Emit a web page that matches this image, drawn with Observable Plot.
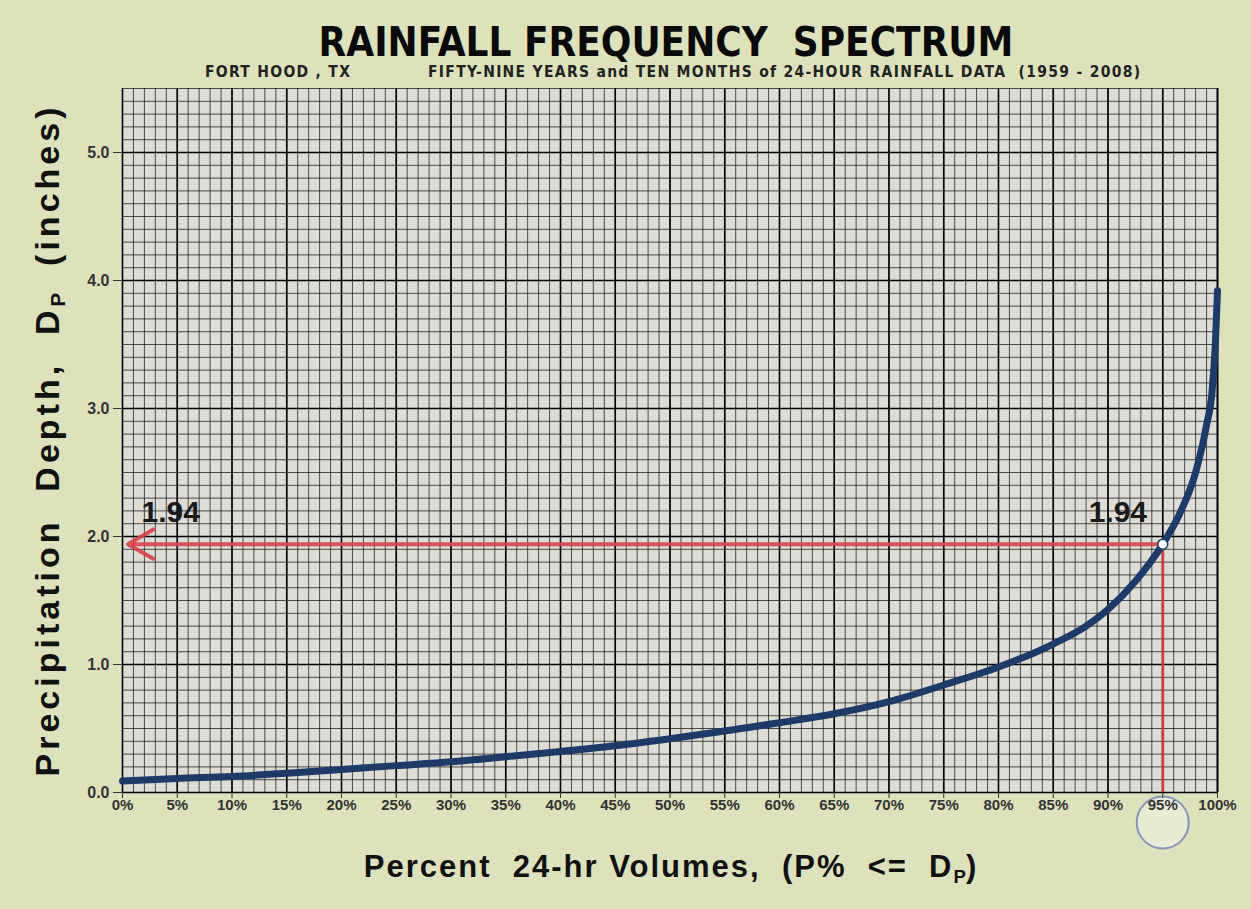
<!DOCTYPE html>
<html><head><meta charset="utf-8">
<script src="https://cdn.jsdelivr.net/npm/d3@7"></script>
<script src="https://cdn.jsdelivr.net/npm/@observablehq/plot@0.6"></script>
<style>
html,body{margin:0;padding:0;}
body{width:1251px;height:909px;background:#dde2bd;position:relative;overflow:hidden;font-family:"Liberation Sans",Arial,sans-serif;}
.abs{position:absolute;white-space:pre;}
#title{left:666px;top:22px;transform:translateX(-50%);font-family:"DejaVu Sans Condensed","Liberation Sans",sans-serif;font-weight:bold;font-size:40px;letter-spacing:0px;color:#0a0a0a;line-height:1;}
.sub{top:65px;font-family:"DejaVu Sans Condensed","Liberation Sans",sans-serif;font-weight:bold;font-size:15.5px;letter-spacing:1.3px;color:#222;line-height:1;}
#ylab{left:47px;top:440px;transform:translate(-50%,-50%) rotate(-90deg);font-weight:bold;font-size:34px;letter-spacing:4px;color:#111;line-height:1;}
#xlab{left:671px;top:866px;transform:translate(-50%,-50%);font-weight:bold;font-size:31px;letter-spacing:2px;color:#111;line-height:1;}
.s{font-size:60%;position:relative;top:0.3em;letter-spacing:0;}
#chart{position:absolute;left:0;top:84px;}
</style></head>
<body>
<div id="title" class="abs">RAINFALL FREQUENCY  SPECTRUM</div>
<div class="abs sub" style="left:205px">FORT HOOD , TX</div>
<div class="abs sub" style="left:428px">FIFTY-NINE YEARS and TEN MONTHS of 24-HOUR RAINFALL DATA  (1959 - 2008)</div>
<div id="ylab" class="abs">Precipitation  Depth,  D<span class="s">P</span>  (inches)</div>
<div id="xlab" class="abs">Percent  24-hr Volumes,  (P%  &lt;=  D<span class="s">P</span>)</div>
<div id="chart"></div>
<script>
// Curve: percent of 24-hr volumes (P%) vs precipitation depth Dp (inches)
const percent = [0,5,10,15,20,25,30,35,40,45,50,55,60,65,70,75,80,85,88,90,92.5,95,96.5,98,99,99.5,99.8,100];
const depth   = [0.09,0.11,0.125,0.15,0.18,0.21,0.24,0.28,0.32,0.365,0.42,0.48,0.545,0.615,0.71,0.84,0.98,1.16,1.3,1.43,1.65,1.94,2.17,2.5,2.87,3.13,3.5,3.92];
const markP = 95, markD = 1.94;
const markLabel = "1.94";
const xTicks = [0,5,10,15,20,25,30,35,40,45,50,55,60,65,70,75,80,85,90,95,100];
const yTicks = [0,1,2,3,4,5];
const xMinor = d3.range(0,101,1);
const yMinor = d3.range(0,56,1).map(d => d/10);

const curve = percent.map((p,i) => ({p, d: depth[i]}));
const mark = [{p: markP, d: markD}];
const arrowData = [{x1: markP, y1: markD, x2: 0.5, y2: markD}];
const labels = [{p: 4.4, d: 2.19, t: markLabel}, {p: 90.9, d: 2.19, t: markLabel}];

const red = "#d8434b";
const navy = "#1e3a66";

const chart = Plot.plot({
  width: 1251,
  height: 825,
  marginTop: 4,
  marginLeft: 122,
  marginRight: 34,
  marginBottom: 117,
  style: {background: "transparent", fontFamily: "'Liberation Sans', Arial, sans-serif", fontWeight: "bold"},
  x: {domain: [0,100], label: null},
  y: {domain: [0,5.5], label: null},
  marks: [
    Plot.frame({fill: "#dddcd6", stroke: null}),
    Plot.ruleX(xMinor, {stroke: "#1a1a1a", strokeOpacity: 0.75, strokeWidth: 1}),
    Plot.ruleY(yMinor, {stroke: "#1a1a1a", strokeOpacity: 0.75, strokeWidth: 1}),
    Plot.ruleX(xTicks, {stroke: "#000", strokeWidth: 1.6}),
    Plot.ruleY(yTicks, {stroke: "#000", strokeWidth: 1.6}),
    Plot.ruleX([100], {stroke: "#000", strokeWidth: 1.6}),
    Plot.dot([{p: markP, d: 0}], {x: "p", y: "d", dy: 30, r: 26, fill: "#ffffff", fillOpacity: 0.35, stroke: "#8a93b8", strokeWidth: 2}),
    Plot.axisX({ticks: xTicks, tickFormat: d => d + "%", tickSize: 6, tickPadding: 1, fontSize: 15, color: "#333"}),
    Plot.axisY({ticks: yTicks, tickFormat: d => d.toFixed(1), tickSize: 9, tickPadding: 4, fontSize: 16, color: "#333"}),
    Plot.arrow(arrowData, {x1: "x1", y1: "y1", x2: "x2", y2: "y2", bend: 0, stroke: red, strokeOpacity: 0.9, strokeWidth: 4, headLength: 11}),
    Plot.ruleX(mark, {x: "p", y1: 0, y2: "d", stroke: red, strokeOpacity: 0.9, strokeWidth: 3}),
    Plot.line(curve, {x: "p", y: "d", stroke: navy, strokeWidth: 7, curve: "monotone-x"}),
    Plot.dot(mark, {x: "p", y: "d", r: 5, fill: "white", stroke: navy, strokeWidth: 1.5}),
    Plot.text(labels, {x: "p", y: "d", text: "t", fontSize: 30, fontWeight: "bold", fill: "#1a1a1a"})
  ]
});
document.getElementById("chart").appendChild(chart);
</script>
</body></html>
